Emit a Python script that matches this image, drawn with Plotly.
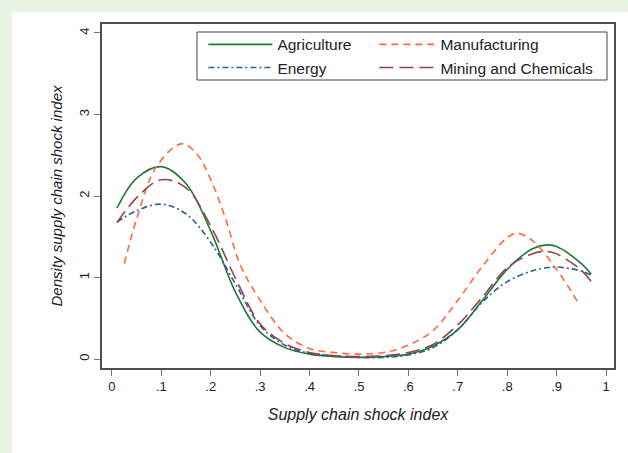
import plotly.graph_objects as go

# ---- data ----
x_common = [0.01, 0.05, 0.10, 0.15, 0.20, 0.25, 0.30, 0.35, 0.40, 0.45, 0.50,
            0.55, 0.60, 0.65, 0.70, 0.75, 0.80, 0.85, 0.88, 0.90, 0.95, 0.97]
agriculture = [1.85, 2.22, 2.36, 2.15, 1.57, 0.82, 0.33, 0.14, 0.06, 0.03, 0.02,
               0.03, 0.06, 0.16, 0.36, 0.72, 1.10, 1.35, 1.40, 1.38, 1.17, 1.04]
energy = [1.68, 1.82, 1.90, 1.78, 1.43, 0.92, 0.41, 0.17, 0.07, 0.04, 0.02,
          0.02, 0.05, 0.14, 0.36, 0.70, 0.95, 1.08, 1.12, 1.13, 1.08, 1.03]
mining = [1.67, 1.98, 2.20, 2.10, 1.63, 0.99, 0.43, 0.19, 0.08, 0.04, 0.03,
          0.04, 0.08, 0.18, 0.42, 0.76, 1.12, 1.29, 1.32, 1.29, 1.09, 0.95]

x_manuf = [0.025, 0.05, 0.09, 0.14, 0.17, 0.20, 0.23, 0.26, 0.30, 0.35, 0.40, 0.45, 0.50,
           0.55, 0.60, 0.65, 0.70, 0.75, 0.80, 0.82, 0.85, 0.90, 0.945]
manufacturing = [1.17, 1.72, 2.36, 2.64, 2.53, 2.20, 1.72, 1.15, 0.72, 0.31, 0.13, 0.08, 0.06,
                 0.08, 0.17, 0.35, 0.72, 1.14, 1.49, 1.54, 1.46, 1.10, 0.68]

x_ticks = [0, 0.1, 0.2, 0.3, 0.4, 0.5, 0.6, 0.7, 0.8, 0.9, 1]
x_ticklabels = ["0", ".1", ".2", ".3", ".4", ".5", ".6", ".7", ".8", ".9", "1"]
y_ticks = [0, 1, 2, 3, 4]

FONT = "Liberation Sans, Arial, sans-serif"
PAPER = "#e9f3e1"

fig = go.Figure()
fig.add_trace(go.Scatter(x=x_common, y=agriculture, name="Agriculture", mode="lines",
                         legend="legend",
                         line=dict(color="#1f7a33", width=1.6, shape="spline")))
fig.add_trace(go.Scatter(x=x_common, y=energy, name="Energy", mode="lines",
                         legend="legend",
                         line=dict(color="#2f5f8f", width=1.6, dash="6px,3px,2px,3px", shape="spline")))
fig.add_trace(go.Scatter(x=x_manuf, y=manufacturing, name="Manufacturing", mode="lines",
                         legend="legend2",
                         line=dict(color="#ff6a3d", width=1.6, dash="7px,5px", shape="spline")))
fig.add_trace(go.Scatter(x=x_common, y=mining, name="Mining and Chemicals", mode="lines",
                         legend="legend2",
                         line=dict(color="#9a4048", width=1.6, dash="14px,6px", shape="spline")))

legend_common = dict(orientation="v", yanchor="top", xanchor="left",
                     bgcolor="rgba(0,0,0,0)", borderwidth=0,
                     font=dict(size=15.5, family=FONT, color="#222"),
                     tracegroupgap=0)

fig.update_layout(
    width=628, height=453,
    margin=dict(l=102, r=14, t=24, b=85, autoexpand=False),
    paper_bgcolor=PAPER,
    plot_bgcolor="white",
    font=dict(family=FONT, color="#222", size=13),
    showlegend=True,
    legend=dict(x=0.198, y=0.989, itemwidth=64, **legend_common),
    legend2=dict(x=0.532, y=0.989, itemwidth=56, **legend_common),
    shapes=[
        dict(type="rect", xref="paper", yref="paper",
             x0=-0.176, x1=1.03, y0=-0.25, y1=1.035,
             fillcolor="white", line=dict(width=0), layer="below"),
        dict(type="rect", xref="paper", yref="paper",
             x0=0.1855, x1=0.9863, y0=0.8372, y1=0.9767,
             fillcolor="rgba(0,0,0,0)", line=dict(color="#444", width=1), layer="above"),
    ],
)
fig.update_xaxes(
    range=[-0.0202, 1.0162], tickvals=x_ticks, ticktext=x_ticklabels,
    showgrid=False, zeroline=False, showline=True, mirror=True, automargin=False,
    linecolor="#505050", linewidth=1.6, ticks="outside", ticklen=6, tickcolor="#777",
    tickfont=dict(size=13, family=FONT),
    title=dict(text="<i>Supply chain shock index</i>", font=dict(size=16, family=FONT), standoff=15),
)
fig.update_yaxes(
    range=[-0.11, 4.11], tickvals=y_ticks, tickangle=-90,
    showgrid=False, zeroline=False, showline=True, mirror=True, automargin=False,
    linecolor="#505050", linewidth=1.6, ticks="outside", ticklen=6, tickcolor="#777",
    tickfont=dict(size=13, family=FONT),
    title=dict(text="<i>Density supply chain shock index</i>", font=dict(size=15, family=FONT), standoff=11),
)

fig.write_html("out.html",
               config={"displayModeBar": False},
               post_script="document.body.style.margin='0';document.body.style.background='%s';" % PAPER)
